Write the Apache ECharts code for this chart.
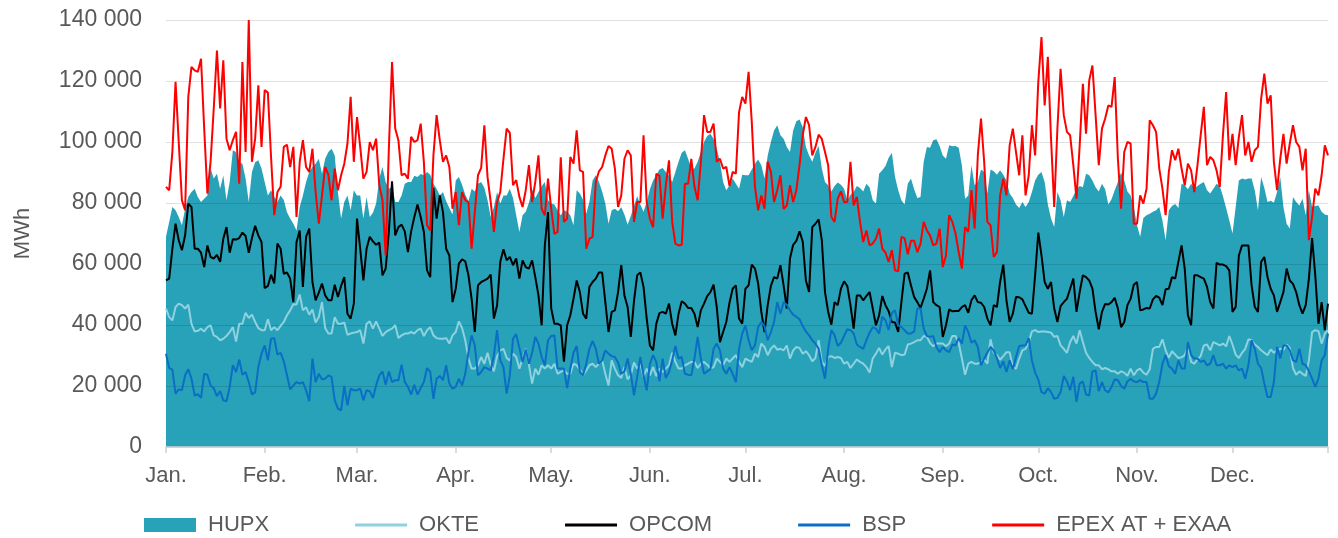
<!DOCTYPE html>
<html>
<head>
<meta charset="utf-8">
<script src="https://cdn.jsdelivr.net/npm/echarts@6/dist/echarts.min.js"></script>
<style>
  html, body { margin: 0; padding: 0; background: #fff; }
  #chart { width: 1338px; height: 538px; }
</style>
</head>
<body>
<div id="chart"></div>
<script>
// daily volumes, thousand MWh (leap year, 366 days)
var monthNames = ['Jan.', 'Feb.', 'Mar.', 'Apr.', 'May.', 'Jun.', 'Jul.', 'Aug.', 'Sep.', 'Oct.', 'Nov.', 'Dec.'];
var monthStart = [0, 31, 60, 91, 121, 152, 182, 213, 244, 274, 305, 335];
var yTicks = [0, 20, 40, 60, 80, 100, 120, 140];

var hupx = [
  68.9,73.8,78.7,77.6,75.4,72.7,78,82,83.6,84.7,82,80.3,81.4,82.5,91.3,88,89.6,84.7,89,80.9,86.9,97.3,96.7,93.4,92.9,88,80.3,90.2,93.4,94,91.3,
  86.9,82.5,84.2,82,80.3,82.5,81,77,74.9,73.2,71,78.7,82.5,86.9,90.2,91.8,92.9,94.5,89.6,94.5,96.7,97.8,95.6,83.6,74.9,80.3,82.5,77.6,84.2,
  82.5,82.5,74.9,82,75.4,76.8,79.8,88,91.8,86.9,84.7,85.3,80.3,80.3,82.5,86.3,86.9,86.9,88.9,88.5,89.5,89.1,90.2,89.3,86.3,84.7,82.5,83.6,80.6,78.4,76.2,
  87.4,88.5,86,82.7,80.6,84.7,83.8,86.3,86.9,85,80.9,75.4,78.7,83.6,79.8,82.5,82.5,84.7,81.6,76,70.5,76,77.1,80.1,84.5,81.6,83.6,85.6,86.9,80.9,
  79.8,79.5,77.6,76,77.6,77.1,76,72.7,84.2,83.1,81.1,76.5,80.3,87.4,89.1,86.9,83.8,79.8,73.2,77.6,78.1,77.3,78.6,76.2,72.9,75.7,79,82.2,79.5,77.1,80.3,
  84.5,87.4,89.1,91,91.5,90.2,88.9,86.9,90.2,93.5,96.5,97.3,94.5,91.3,91.3,93.5,96.7,100,102,102.7,101.1,97.8,93.5,86.9,84.2,85.8,88,86.3,84.7,89.3,
  89.1,89.1,91,92.9,94.3,92.4,88,95.6,100,103.8,105.5,102.2,101.1,98.4,96.7,103.8,106.8,107.4,104.9,98.4,95.6,93.5,96.5,98.7,91.3,86.9,85.8,83.8,85.6,86.7,86,
  84.7,80.9,82.7,83.6,85.6,84.9,83.8,86.3,85.2,80.9,79.8,89.6,90.7,92.1,94.8,96.5,88.5,84.2,80.9,79.5,86.3,88,84.5,81.6,82,93.5,98.4,98.1,100.6,100.9,98.7,
  95.6,94.5,98.9,98.6,98.7,98.1,92.4,81.4,82.5,92.4,85.8,86.9,91,90.2,83.1,91,90.4,89.3,90.7,89.3,87.4,83.1,81.6,79.5,78.4,80.3,78.7,80.3,83.6,87.4,
  89.3,90.2,86.9,79.5,74.9,72.1,83.6,80.9,75.4,80.9,80.3,82.3,84.5,85.6,85.2,89.6,89.1,87.4,85.2,83.8,86.3,84.5,79.5,81.2,84.2,86.9,90,87.4,83.8,82.5,78.7,
  72.7,68.9,75.1,76,76.5,77.1,77.6,78.7,74.3,67.8,77.6,79,79.7,78.4,86.3,85.8,84.5,86.3,84.9,85.6,86.3,86.9,84.2,83.1,84.7,86.3,85.6,82.2,78.4,74.3,
  70,78.7,87.4,88,87.7,88,88,84.2,77.6,88.5,84.9,80.3,80.7,80.1,83.6,88.5,78.7,73.2,71.6,82,80.3,79.2,81.4,76,84.2,78.7,79,79.2,77.1,76.2,76
];

var okte = [
  45.4,42.6,41.5,45.9,47,46.5,45.4,46.7,40.4,37.9,38.1,38.8,37.9,39.3,39.9,36.6,36.1,35,35.5,36.4,37.7,39.3,34.6,40.4,40.4,44,42.3,43.4,41,39,38.3,
  38.3,41.9,38.3,39.3,38.3,39.7,41,43.2,44.8,46.8,46.7,50,44.8,45.8,43.4,45.1,40.8,42.6,47.5,39,37.2,37.2,42.6,40.4,40.4,40.8,36.8,37.2,37.5,
  37.7,38.3,33.9,40.4,41.2,38.8,41.2,38.8,36.4,37.7,38.3,38.8,39.9,35.7,36.6,37.2,37.2,37.7,37.2,38.3,38.8,36.4,38.3,39.3,36.6,35.7,35.5,35.5,35.7,33.9,36.6,
  37.7,41.2,39,35,29,25.7,25.7,26.8,29.5,27.3,30.9,27,24.8,29.8,31.7,32.2,29.2,28.4,30.6,29.5,25.7,29,32.2,27,20.8,25.7,23.7,26.8,25.7,26.8,
  25.7,27.3,24,24.6,25.1,24,24,27.3,26.8,25.4,23.5,25.1,26.8,27.3,26.2,27.3,28.4,24,20.2,28.4,25.7,23.5,22.6,26.2,22.2,23.5,27.7,25.7,27.3,23,25.7,
  23.5,26.2,23.2,25.7,24.6,25.7,26.8,30.9,27.9,25.7,25.7,26.8,27.3,27.9,27.9,25.9,27.3,27.9,27,25.7,26.2,29,27.9,26.8,29,27.9,29,30.1,27.9,26.2,
  29,28.4,27.9,30.6,29.5,33.9,32.8,30.1,32.2,33.3,31.9,32.2,31.7,33.3,29,31.7,32.8,32.5,30.6,31.4,30.1,28.1,29.2,35,27.9,26.6,29.5,29.8,29.2,29.5,29.2,
  27.3,27.9,25.9,27.3,28.7,27.9,27.3,26.2,24.4,29,30.6,32.5,30.3,32,33.1,26.2,30.9,30.6,30.1,30.3,33.6,33.9,34.4,35,35,36.4,36.1,34.1,33,33.9,33.9,
  33.9,33,33.9,36.4,36.4,34.1,29,23.7,27.3,27.9,27.3,27.3,27.9,28.7,27.3,35.3,30.9,30.1,28.6,29.8,31.1,31.1,26.2,25.7,29,31.7,32.2,34.4,37.9,38.3,
  37.7,37.9,37.9,37.7,37.5,36.1,36.4,33.3,32.2,30.9,34.4,36.4,33.9,38.3,34.4,30.9,29.2,27.9,26.8,26.8,25.5,25.9,25.5,24.8,24.8,24,24.8,24.4,23.3,25.7,23.5,
  25.1,25.7,24.4,23.7,25.5,32.2,32.8,32.8,35.3,31.7,29.2,31.4,30.3,29.2,29.4,30.1,32.8,27.9,27.3,28.7,29.8,33.3,33.6,31.7,34.4,33.9,33.3,33.9,33,36.4,
  33.6,30.3,29.2,30.9,32.2,35.3,35,33.6,32.8,31.7,30.9,30.1,32,30.9,31.7,32.2,31.9,33.6,32.5,25.9,23.7,24.8,24,23.3,28.4,37.7,38.3,38,33.9,37.2,38.3
];

var opcom = [
  54.6,55.2,65,73.2,67.8,64.5,69.4,79.8,78.7,65,65,63.7,59,66.1,62.3,61.8,63,60.7,68.3,72.1,63.7,68.1,68,68.5,70.3,69.2,63.7,68.5,72.5,69.4,67.2,
  52.1,52.8,56.5,53.6,66.7,65,56.8,57.2,55.2,47.5,67.2,71,52.5,68.9,71.6,54.1,48.1,50.6,53.6,49.7,48.1,48.1,53.2,49.2,52.8,55.7,43.7,42.1,47,
  74.9,65,54.6,65,68.9,67.4,66.3,67,56.3,58.5,70.5,87.1,69.4,72.1,72.9,70.7,63.9,70.7,75.4,79.5,75.4,70.5,57.9,55.7,85,74.9,82.5,77,65,62.8,47.5,
  51.9,60.1,61.5,60.9,56.3,48.6,37.7,53,54.1,54.6,55.2,56.5,42.1,46.5,60.7,64.8,61.2,62.3,59.6,61.8,55.2,61.2,59,58.5,61.2,55.7,49.7,39.9,66.1,77,
  45.4,40.4,40.4,39.9,28,39.9,43.2,48.6,54.6,50.8,43.7,42.1,52.5,54.1,55.2,57.2,57.2,47.5,37.7,44.3,44.8,50.8,59.6,49.7,45.9,36.1,47.8,56.3,57.2,52.5,42.1,
  33.3,31.7,40.4,43.9,44.3,43.7,47,40.4,36.6,43.7,47.8,47,45.6,45.6,43.7,39.3,44.8,47,49.5,50.8,53.2,45.9,34.4,37.7,41,47.3,51.9,53,42.1,40.4,
  51.9,53,59.8,58.5,53.6,44.3,37.7,46.5,52.8,55.7,55.2,59.6,53,45.4,61.8,66.3,67.6,70.7,67.4,54.6,50.8,72.1,73.2,74.6,67.8,50.8,44.3,40.1,47.5,46.5,51.9,
  54.3,52.8,46.5,38.8,49.7,49.7,48.1,49.5,50.8,45.4,39.9,43.2,49.5,46.5,44.5,41,40.8,37.7,47.5,56.8,57.2,53,49.2,47.5,45.6,48.6,51.9,57.9,47.5,46.5,45.9,
  36.1,39.9,45.1,44.5,44.6,44.6,45.9,46.5,44,48.1,49.7,47.5,47.3,45.9,42.1,39.9,46.5,45.9,54.1,59.8,48.1,41,43.7,49.2,49.1,48.4,46.2,44,43.7,56.3,
  70.3,62.8,54.1,51.9,54.1,45.4,41,46.2,47.5,48.6,51.9,55.2,44.3,50.8,56.3,55.7,54.6,51.9,44.3,38.6,44.3,46.9,46.7,47.5,48.9,45.4,39.3,41,46.5,48.6,53.2,
  54.1,44.8,45.1,45.6,45.4,48.4,49.5,49,46.5,51.7,51.9,55.7,55.2,60.7,66.1,58.5,43.2,39.9,56.3,56.3,55.7,55.2,52.5,47.5,45.4,60.4,59.8,59.8,59.3,57.9,
  44.3,45.9,62.8,66.1,66.1,66.1,53,45.9,44.3,60.7,62.3,55.7,51.9,49.7,44.3,47.5,50.8,58.5,54.6,53.5,50.8,46.5,43.7,46.5,55.2,68.5,56.3,40.4,47.5,38.3,47
];

var bsp = [
  30.6,25.9,25.4,17.5,18.9,18.6,23.5,25.5,22.4,16.9,17.3,16.1,24,23.7,20.2,19.3,16.7,18.3,15.3,15,19.7,26.8,24.6,28.7,23.7,24.6,21.3,17.2,18,26.2,30.6,
  33.3,28.4,35.5,35.7,30.3,30.9,28.1,23.5,18.9,20.2,21.3,20.8,21.3,18.6,15,29,21.3,24,22.2,22.4,23.5,23,15.3,12.6,12,20,13.7,19.1,18.6,
  18.6,19.1,15.3,18.6,18.3,16.1,20.2,23.5,24.8,20.4,24.8,21.3,21.9,21.9,27,21.3,19.7,17.2,20.4,17.2,19.3,21.3,25.9,24.6,15.8,22.4,23.3,21.9,26.8,20.8,19.1,
  19.7,22.4,20.2,24,31.1,36.6,33.3,23.5,24.6,26.2,25.7,25.1,30.1,38.3,28.4,26.2,17.5,23.5,35.5,37,32.5,27.9,32,27.3,30.9,36.1,33.9,29.5,26.8,35,
  36.4,36.6,25.7,25.7,25.7,19.3,25.7,30.9,33.1,24.6,23.5,27.3,32.2,34.8,32.2,27.3,28.4,31.7,30.6,29.8,29.5,27.7,24,24.8,29,24,16.9,23,29.5,23.5,18.6,
  27.3,30.1,27.9,21.5,29,22.6,24.6,28.4,33.1,29,29.5,24,23.7,23.5,29,36.1,29,24,24.8,25.5,32.2,33.9,31.7,25.7,24,26.2,24,21.3,32.2,37.2,
  39.9,35,31.7,33.4,39.3,41,39.7,35,37.7,41,47.5,43.7,47.5,46.6,44.8,43.4,42.7,41.9,39.7,37.9,36.6,35,33.9,32.2,26.8,22.4,32.2,38.4,36.6,33.1,34.2,
  36.4,38.6,38.3,37.2,33.6,32.8,32.2,35,37.5,39.3,38.8,37.2,42.7,41.5,38.3,43.9,44.8,39.9,39.3,38.3,37.2,37.2,37.9,45.4,45.4,38.8,36.4,36.1,36.4,32.8,31.1,
  32.8,31.7,31.1,33.6,33.3,35.7,33.9,39.9,37.7,34.2,35,32.8,26.8,29,30.9,32.8,31.7,29.2,25.9,28.1,24.6,28.4,25.5,29.5,33.1,33.3,33.3,35.7,28.4,24.4,
  22.1,18,17.5,19.3,18,15.8,16.1,18,23.3,21.5,18.6,23,14.8,20.8,21.5,17.2,16.9,24.8,25.1,18.3,21.3,18.6,17.9,19.7,22.2,21.9,20,19.1,21.5,22.4,21.5,
  21.3,21.9,21.3,21.3,15.8,15.8,17.5,21.3,27.3,30.1,26.5,25.7,24,28.4,25.7,25.7,34.4,30.1,29,29,27.9,28.4,26.8,27.3,30.1,26.8,26.8,27.3,25.7,26.8,
  26.2,26.8,25.1,25.7,22.4,26.8,35,32.2,27.3,25.9,20.8,16.4,16.4,21.3,32.8,29,33.3,33.3,31.7,28.4,27.9,32.2,27.3,26.8,24.8,22.4,19.7,22.4,28.4,30.1,37.2
];

var epex = [
  85.3,84.2,96.7,119.7,100,80.9,77.6,114.8,124.6,123.5,123,127.3,104.4,83.1,93.5,111,130,111,126.8,101.1,97.3,100.6,103.3,86.3,126.2,96.7,140,93.5,101.1,118.6,98.4,
  117,116.2,95.1,76,83.6,85.3,98.4,99.1,91.8,98.4,75.4,93.5,100.6,91.8,90.2,97.8,83.6,73.2,82.5,91.8,89.3,80.9,91.3,84.2,89.1,92.9,99.5,114.8,93.5,
  108.2,98.4,88,90.2,100,97.3,101.1,85.8,80.9,62.8,97.8,126.2,104.4,100.6,89.1,89.6,88,101.7,100,100.6,106,93.5,72.7,71,95.6,108.8,100.6,93.5,95.6,91.8,78.1,
  83.6,72.7,83.6,80.9,80.3,65,77.1,89.1,91.5,105.5,88.5,80.3,70.5,80.3,83.6,94.5,104.4,103,85.8,87.5,82,78.7,84.2,92.4,80.3,86.9,95.6,78.1,76,88,
  78.1,69.9,70.5,95,73.8,74.9,95.1,92.9,103.8,90.7,90.2,65,68.3,68.9,86.9,90.4,91.8,95.6,98.7,97.8,91.3,78.7,82.5,94.5,97.3,95.6,73.8,80.3,80.3,102.2,80.3,
  74.9,72.1,89.6,88.9,74.9,85.8,94,73.8,66.7,66.1,66.3,86.3,86.3,94.5,85.3,80.9,93.5,108.8,103.3,103.3,106,93.5,94.5,91.3,91.8,85.6,90.2,89.6,109.8,114.8,
  112.6,123,106.6,85.3,77.6,82.5,78.1,93.5,90.2,80.3,84.2,89.1,78.1,79.2,85.8,80.3,84.2,92.4,102.2,108.2,105.5,95.6,98.4,102.4,101,96.7,92.4,75.4,73.8,81.4,83.8,
  80.3,80.3,93.5,79.2,82,73.8,67.2,71,66.1,66.7,68.3,71.6,65,63.7,60.7,64.5,57.9,57.6,68.9,68.5,63.2,67.6,67.6,63.9,66.7,73.8,71,69.4,66.1,66.7,71.6,
  59,62.8,76,73.8,70,63.9,58.5,72.1,70.5,84.2,71.6,95.6,107.7,93.5,73.8,72.7,62.3,63.9,82.5,88,82.5,98.9,104.4,96.7,89.1,102.2,82.5,89.1,105.5,95.6,
  119.7,134.4,112,127.9,101.1,78.7,104.4,124,108.8,103.3,102.2,92.4,81.4,98.9,119.1,102.7,120.2,125.1,108.8,92.4,104.4,107.7,112,111.5,121.3,94.5,78.1,96.7,100,99.5,73.2,
  73.2,82.5,79.8,84.7,107.1,105.5,103.3,91.3,84.7,76,90.2,97.3,94,97.8,91.3,85.8,92.9,90.7,83.6,92.4,102.2,111.5,92.4,95.1,94,90.7,85.3,102.2,116.4,94,
  102.7,92.4,101.7,108.8,95.6,100,93.5,97.3,98.4,114.2,122.4,112.6,115.3,93.5,84.2,94.5,102.7,92.9,99.5,105.5,100,98.4,90.7,97.8,67.8,75.4,84.7,82.5,89.1,98.9,95.6
];

var days = [];
for (var i = 0; i < hupx.length; i++) {
  days.push(new Date(Date.UTC(2024, 0, 1 + i)).toISOString().slice(0, 10));
}

var textGrey = '#595959';
var font = '"Liberation Sans", Arial, sans-serif';
var lineIcon = 'path://M0,0M0,14M0,5.5L52,5.5L52,8.5L0,8.5Z';

var myChart = echarts.init(document.getElementById('chart'));

var option = {
  animation: false,
  backgroundColor: '#fff',
  textStyle: { fontFamily: font },
  grid: { left: 166, right: 10, top: 20, bottom: 91, outerBoundsMode: 'none' },
  legend: {
    left: 139,
    top: 509,
    itemWidth: 52,
    itemHeight: 14,
    itemGap: 86,
    itemStyle: { borderWidth: 0 },
    textStyle: { fontSize: 22, color: textGrey, fontFamily: font, padding: [0, 0, 0, 7] },
    data: [
      { name: 'HUPX', icon: 'rect' },
      { name: 'OKTE', icon: lineIcon },
      { name: 'OPCOM', icon: lineIcon },
      { name: 'BSP', icon: lineIcon },
      { name: 'EPEX AT + EXAA', icon: lineIcon }
    ]
  },
  xAxis: {
    type: 'category',
    data: days,
    boundaryGap: false,
    z: 1.5,
    axisLine: { lineStyle: { color: '#d0d0d0', width: 1.5 } },
    axisTick: {
      length: 6,
      lineStyle: { color: '#d0d0d0', width: 1.5 },
      interval: function (idx) { return monthStart.indexOf(idx) >= 0 || idx === days.length - 1; }
    },
    axisLabel: {
      fontSize: 22,
      color: textGrey,
      margin: 18,
      interval: function (idx) { return monthStart.indexOf(idx) >= 0; },
      formatter: function (v, idx) { return monthNames[monthStart.indexOf(idx)]; }
    },
    splitLine: { show: false }
  },
  yAxis: {
    type: 'value',
    min: yTicks[0],
    max: yTicks[yTicks.length - 1],
    interval: yTicks[1] - yTicks[0],
    z: 1.5,
    name: 'MWh',
    nameLocation: 'middle',
    nameGap: 132,
    nameTextStyle: { fontSize: 22, color: textGrey },
    axisLine: { show: false },
    axisTick: { show: false },
    axisLabel: {
      fontSize: 23,
      color: textGrey,
      margin: 24,
      formatter: function (v) { return String(v * 1000).replace(/\B(?=(\d{3})+(?!\d))/g, ' '); }
    },
    splitLine: { lineStyle: { color: 'rgba(0,0,0,0.12)', width: 1 } }
  },
  series: [
    {
      name: 'HUPX', type: 'line', data: hupx, symbol: 'none', z: 1,
      itemStyle: { color: '#28a2b8' },
      lineStyle: { width: 0 },
      areaStyle: { color: '#28a2b8', opacity: 1 }
    },
    {
      name: 'OKTE', type: 'line', data: okte, symbol: 'none',
      itemStyle: { color: '#8fd1df' }, lineStyle: { width: 2, color: '#8fd1df' }
    },
    {
      name: 'OPCOM', type: 'line', data: opcom, symbol: 'none',
      itemStyle: { color: '#000000' }, lineStyle: { width: 2, color: '#000000' }
    },
    {
      name: 'BSP', type: 'line', data: bsp, symbol: 'none',
      itemStyle: { color: '#0a6fc4' }, lineStyle: { width: 2, color: '#0a6fc4' }
    },
    {
      name: 'EPEX AT + EXAA', type: 'line', data: epex, symbol: 'none',
      itemStyle: { color: '#ff0000' }, lineStyle: { width: 2, color: '#ff0000' }
    }
  ]
};
myChart.setOption(option);
</script>
</body>
</html>
